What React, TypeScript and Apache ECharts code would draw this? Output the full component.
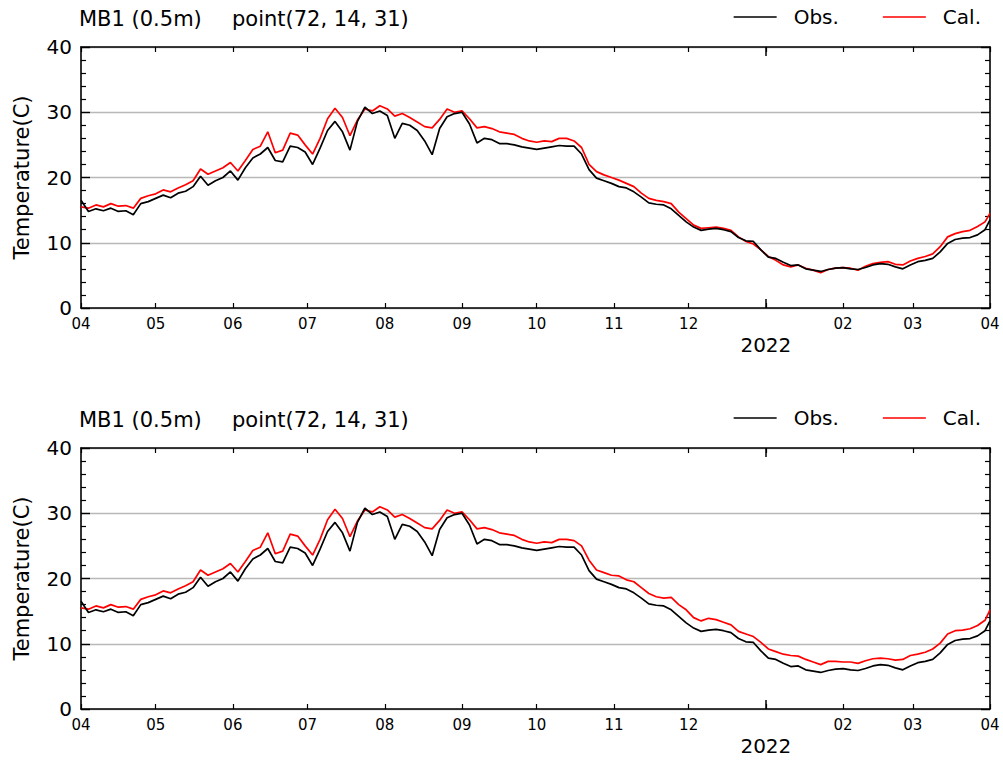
import React, { useEffect, useRef } from "react";
import * as echarts from "echarts";

// ---- data (one value every 3 days from 2021-04-01, last one on 2022-04-01) ----
const START: [number, number, number] = [2021, 4, 1];
const END: [number, number, number] = [2022, 4, 1];
const DAY_STEP = 3;
const LAST_DAY = 365;

const MONTH_STARTS: [number, number][] = [
  [2021, 4], [2021, 5], [2021, 6], [2021, 7], [2021, 8], [2021, 9], [2021, 10],
  [2021, 11], [2021, 12], [2022, 1], [2022, 2], [2022, 3], [2022, 4],
];
const YEAR_MARK: [number, number] = [2022, 1];
const YEAR_LABEL = "2022";

const TITLE_LEFT = "MB1 (0.5m)";
const TITLE_RIGHT = "point(72, 14, 31)";
const Y_NAME = "Temperature(C)";
const OBS_NAME = "Obs.";
const CAL_NAME = "Cal.";

const obs = [
  16.5, 14.8, 15.2, 14.9, 15.3, 14.8, 14.9, 14.3, 16.0, 16.3,
  16.8, 17.3, 16.9, 17.6, 17.9, 18.6, 20.2, 18.8, 19.5, 20.0,
  21.0, 19.6, 21.5, 23.0, 23.6, 24.6, 22.6, 22.4, 24.8, 24.6,
  23.9, 22.0, 24.5, 27.2, 28.6, 27.0, 24.2, 28.6, 30.8, 29.8,
  30.2, 29.5, 26.0, 28.3, 28.0, 27.2, 25.6, 23.5, 27.5, 29.3,
  29.8, 30.0, 28.2, 25.3, 26.0, 25.8, 25.2, 25.2, 25.0, 24.7,
  24.5, 24.3, 24.5, 24.7, 24.9, 24.8, 24.8, 23.6, 21.2, 19.9,
  19.5, 19.1, 18.6, 18.4, 17.8, 17.0, 16.1, 15.9, 15.8, 15.2,
  14.2, 13.2, 12.4, 11.9, 12.1, 12.2, 12.0, 11.7, 10.8, 10.3,
  10.2, 8.9, 7.8, 7.6, 7.0, 6.5, 6.6, 6.0, 5.8, 5.6,
  5.9, 6.1, 6.2, 6.0, 5.9, 6.2, 6.6, 6.8, 6.7, 6.3,
  6.0, 6.6, 7.1, 7.3, 7.6, 8.6, 9.9, 10.5, 10.7, 10.8,
  11.2, 12.0, 13.5,
];

const calTop = [
  15.5, 15.3, 15.8, 15.5, 16.0, 15.6, 15.7, 15.3, 16.8, 17.2,
  17.5, 18.1, 17.8, 18.4, 18.9, 19.5, 21.3, 20.5, 21.0, 21.5,
  22.3, 21.0, 22.6, 24.3, 24.8, 27.0, 23.8, 24.2, 26.8, 26.5,
  25.0, 23.6, 26.0, 29.0, 30.6, 29.2, 26.4, 28.8, 30.5, 30.2,
  31.0, 30.5, 29.4, 29.8, 29.2, 28.5, 27.8, 27.6, 28.9, 30.5,
  30.0, 30.2, 29.0, 27.6, 27.8, 27.5, 27.0, 26.8, 26.6, 26.0,
  25.6, 25.4, 25.6, 25.5, 26.0, 26.0, 25.6, 24.6, 22.0, 20.9,
  20.4, 20.0, 19.6, 19.1, 18.6, 17.6, 16.8, 16.5, 16.3, 16.0,
  14.7, 13.7, 12.7, 12.2, 12.3, 12.4, 12.2, 11.9, 10.9, 10.2,
  9.8, 8.9, 7.9, 7.3, 6.6, 6.3, 6.6, 6.1, 5.8, 5.4,
  5.9, 6.1, 6.2, 6.1, 5.8, 6.4, 6.8, 7.0, 7.1, 6.7,
  6.6, 7.2, 7.6, 7.9, 8.3, 9.4, 10.9, 11.4, 11.7, 11.9,
  12.5, 13.2, 14.5,
];

const calBottom = [
  15.5, 15.3, 15.8, 15.5, 16.0, 15.6, 15.7, 15.3, 16.8, 17.2,
  17.5, 18.1, 17.8, 18.4, 18.9, 19.5, 21.3, 20.5, 21.0, 21.5,
  22.3, 21.0, 22.6, 24.3, 24.8, 27.0, 23.8, 24.2, 26.8, 26.5,
  25.0, 23.6, 26.0, 29.0, 30.6, 29.2, 26.4, 28.8, 30.5, 30.2,
  31.0, 30.5, 29.4, 29.8, 29.2, 28.5, 27.8, 27.6, 28.9, 30.5,
  30.0, 30.2, 29.0, 27.6, 27.8, 27.5, 27.0, 26.8, 26.6, 26.0,
  25.6, 25.4, 25.6, 25.5, 26.0, 26.0, 25.8, 25.0, 22.8, 21.3,
  20.9, 20.5, 20.4, 19.8, 19.5, 18.6, 17.7, 17.2, 17.0, 17.1,
  16.0, 15.2, 14.0, 13.5, 13.9, 13.7, 13.3, 12.9, 11.9, 11.5,
  11.1, 10.2, 9.2, 8.8, 8.4, 8.2, 8.1, 7.6, 7.2, 6.8,
  7.3, 7.3, 7.2, 7.2, 7.0, 7.4, 7.7, 7.8, 7.7, 7.5,
  7.6, 8.2, 8.4, 8.7, 9.2, 10.1, 11.5, 12.0, 12.1, 12.3,
  12.8, 13.6, 15.2,
];

const Y_MIN = 0;
const Y_MAX = 40;
const Y_INTERVAL = 10;

// ---- helpers (x axis in days since START) ----
const DAY_MS = 86400000;
const utc = (y: number, m: number, d = 1) => Date.UTC(y, m - 1, d);
const T0 = utc(START[0], START[1], START[2]);
const dayIndex = (y: number, m: number, d = 1) => Math.round((utc(y, m, d) - T0) / DAY_MS);
const X_MAX = dayIndex(END[0], END[1], END[2]);
const dayOf = (i: number, n: number) => (i === n - 1 ? LAST_DAY : i * DAY_STEP);
const toSeries = (vals: number[]) => vals.map((v, i) => [dayOf(i, vals.length), v]);
const monthTicks = MONTH_STARTS.map(([y, m]) => dayIndex(y, m));
const yearTick = dayIndex(YEAR_MARK[0], YEAR_MARK[1]);
const monthLabel = (day: number) => {
  const d = new Date(T0 + day * DAY_MS);
  const m = d.getUTCMonth();
  if (m === 0) return "";
  return String(m + 1).padStart(2, "0");
};

const FONT = "DejaVu Sans";

export default function App() {
  const ref = useRef<HTMLDivElement>(null);
  useEffect(() => {
    document.body.style.margin = "0";
    if (!ref.current) return;
    const chart = echarts.init(ref.current, undefined, { renderer: "svg" });

    const panels = [
      { top: 47, cal: calTop },
      { top: 448, cal: calBottom },
    ];
    const H = 261;

    const grid: any[] = [];
    const xAxis: any[] = [];
    const yAxis: any[] = [];
    const series: any[] = [];
    const title: any[] = [];
    const legend: any[] = [];

    panels.forEach((p, k) => {
      grid.push({ left: 81, right: 13, top: p.top, height: H, containLabel: false });
      const baseX = {
        type: "value",
        gridIndex: k,
        min: 0,
        max: X_MAX,
        splitLine: { show: false },
        axisPointer: { show: false },
      };
      xAxis.push({
        ...baseX,
        position: "bottom",
        axisLine: { show: true, onZero: false, lineStyle: { color: "#000", width: 1.6 } },
        axisTick: { show: true, inside: true, length: 5, customValues: monthTicks, lineStyle: { color: "#000", width: 1.2 } },
        axisLabel: {
          show: true,
          customValues: monthTicks,
          margin: 8,
          fontSize: 15,
          fontFamily: FONT,
          color: "#000",
          showMinLabel: true,
          showMaxLabel: true,
          formatter: (v: number) => monthLabel(v),
        },
      });
      xAxis.push({
        ...baseX,
        position: "top",
        axisLine: { show: true, onZero: false, lineStyle: { color: "#000", width: 1.6 } },
        axisTick: { show: true, inside: true, length: 5, customValues: monthTicks, lineStyle: { color: "#000", width: 1.2 } },
        axisLabel: { show: false },
      });
      xAxis.push({
        ...baseX,
        position: "bottom",
        axisLine: { show: false, onZero: false },
        axisTick: { show: true, inside: true, length: 9, customValues: [yearTick], lineStyle: { color: "#000", width: 1.5 } },
        axisLabel: {
          show: true,
          customValues: [yearTick],
          margin: 27,
          fontSize: 20,
          fontFamily: FONT,
          color: "#000",
          formatter: () => YEAR_LABEL,
        },
      });
      xAxis.push({
        ...baseX,
        position: "top",
        axisLine: { show: false, onZero: false },
        axisTick: { show: true, inside: true, length: 9, customValues: [yearTick], lineStyle: { color: "#000", width: 1.5 } },
        axisLabel: { show: false },
      });

      const baseY = {
        type: "value",
        gridIndex: k,
        min: Y_MIN,
        max: Y_MAX,
        interval: Y_INTERVAL,
        axisLine: { show: true, onZero: false, lineStyle: { color: "#000", width: 1.6 } },
        axisTick: { show: true, inside: true, length: 9, lineStyle: { color: "#000", width: 1.4 } },
        minorTick: { show: true, splitNumber: 5, length: 5, lineStyle: { color: "#000", width: 1.2 } },
        minorSplitLine: { show: false },
      };
      yAxis.push({
        ...baseY,
        position: "left",
        splitLine: { show: true, lineStyle: { color: "#b8b8b8", width: 1.3 } },
        axisLabel: { show: true, margin: 9, fontSize: 20, fontFamily: FONT, color: "#000" },
        name: Y_NAME,
        nameLocation: "middle",
        nameGap: 49,
        nameTextStyle: { fontSize: 21, fontFamily: FONT, color: "#000" },
      });
      yAxis.push({
        ...baseY,
        position: "right",
        splitLine: { show: false },
        axisLabel: { show: false },
      });

      series.push({
        name: OBS_NAME,
        type: "line",
        xAxisIndex: k * 4,
        yAxisIndex: k * 2,
        data: toSeries(obs),
        showSymbol: false,
        symbol: "none",
        lineStyle: { color: "#000", width: 1.7 },
        itemStyle: { color: "#000" },
        z: 3,
      });
      series.push({
        name: CAL_NAME,
        type: "line",
        xAxisIndex: k * 4,
        yAxisIndex: k * 2,
        data: toSeries(p.cal),
        showSymbol: false,
        symbol: "none",
        lineStyle: { color: "#ff0000", width: 1.7 },
        itemStyle: { color: "#ff0000" },
        z: 2,
      });

      const off = p.top - 47;
      title.push({
        text: TITLE_LEFT,
        left: 79,
        top: 8 + off,
        textStyle: { fontSize: 21, fontWeight: "normal", fontFamily: FONT, color: "#000" },
        padding: 0,
      });
      title.push({
        text: TITLE_RIGHT,
        left: 232,
        top: 8 + off,
        textStyle: { fontSize: 21, fontWeight: "normal", fontFamily: FONT, color: "#000" },
        padding: 0,
      });
      legend.push({
        data: [
          { name: OBS_NAME, itemStyle: { color: "#000" } },
          { name: CAL_NAME, itemStyle: { color: "#ff0000" } },
        ],
        right: 22,
        top: 7 + off,
        padding: 0,
        icon: "rect",
        itemWidth: 43,
        itemHeight: 1.5,
        itemGap: 44,
        selectedMode: false,
        textStyle: { fontSize: 20, fontFamily: FONT, color: "#000", padding: [0, 0, 0, 12] },
      });
    });

    chart.setOption({
      animation: false,
      backgroundColor: "#fff",
      textStyle: { fontFamily: FONT },
      title,
      legend,
      grid,
      xAxis,
      yAxis,
      series,
    });
    return () => chart.dispose();
  }, []);
  return <div ref={ref} style={{ width: 1003, height: 760 }} />;
}
